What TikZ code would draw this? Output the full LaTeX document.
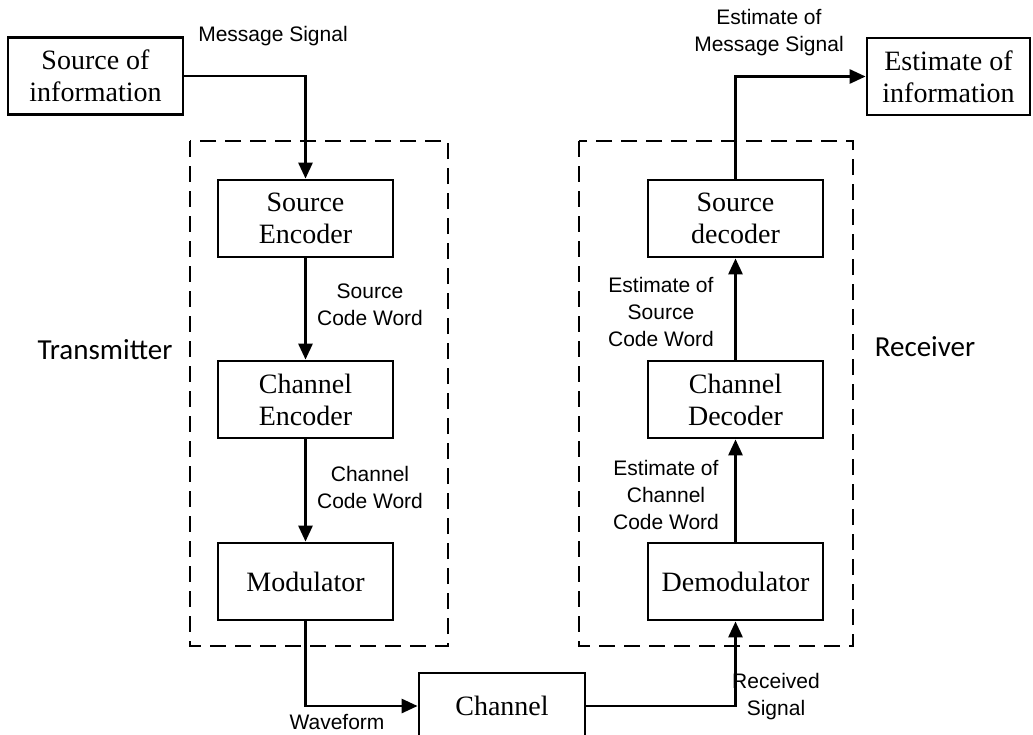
\documentclass[tikz,border=0pt]{standalone}
\usepackage{fontspec}
\usepackage{tikz}
\usetikzlibrary{arrows.meta}
\usetikzlibrary{positioning}
\newfontfamily\boxfont{Liberation Serif}
\newfontfamily\lblfont{Liberation Sans}
\newfontfamily\sidefont{Carlito}
\tikzset{block/.style = {draw, line width = 1.4pt, rectangle, align = center,
                         minimum width = 87.5pt, minimum height = 38.5pt, inner sep = 0,
                         font = \boxfont\fontsize{14}{16}\selectfont}}
\tikzset{lbl/.style = {align = center, inner sep = 0, font = \lblfont\fontsize{10.5}{13.5}\selectfont}}
\tikzset{side/.style = {inner sep = 0, font = \sidefont\fontsize{14.5}{17}\selectfont}}
\tikzset{frame/.style = {line width = 1.4pt, dash pattern = on 8pt off 4.5pt}}
\tikzset{wire/.style = {line width = 1.4pt, -{Triangle[length = 8pt, width = 7pt]}}}

\begin{document}
\begin{tikzpicture}[x = 0.5pt, y = -0.5pt]
      \useasboundingbox (0, 0) rectangle (1033, 734);

      % transmitter side
      \node [block] (src) at (95.5, 76) {Source of\\information};
      \node [block] (srcenc) at (305.5, 218.5) {Source\\Encoder};
      \node [block] (chenc) at (305.5, 399.5) {Channel\\Encoder};
      \node [block] (mod) at (305.5, 581.5) {Modulator};
      \draw [frame] (190, 141) rectangle (448, 646);

      % channel
      \node [block, minimum width = 83pt, minimum height = 33pt] (chan) at (502, 706) {Channel};

      % receiver side
      \node [block] (srcdec) at (735.5, 218.5) {Source\\decoder};
      \node [block] (chdec) at (735.5, 399.5) {Channel\\Decoder};
      \node [block] (demod) at (735.5, 581.5) {Demodulator};
      \node [block, minimum width = 81.5pt] (est) at (948.5, 76.5) {Estimate of\\information};
      \draw [frame] (579, 141) rectangle (853, 646);

      \draw [wire] (src.east) -| (srcenc.north);
      \draw [wire] (srcenc) -- (chenc);
      \draw [wire] (chenc) -- (mod);
      \draw [wire] (mod.south) |- (chan.west);
      \draw [wire] (chan.east) -| (demod.south);
      \draw [wire] (demod) -- (chdec);
      \draw [wire] (chdec) -- (srcdec);
      \draw [wire] (srcdec.north) |- (est.west);

      \node [lbl] (msg) at (273, 36) {Message Signal};
      \node [lbl] (srccw) at (370, 305) {Source\\Code Word};
      \node [lbl] (chcw) at (370, 487) {Channel\\Code Word};
      \node [lbl] (wave) at (337, 722) {Waveform};
      \node [lbl] (recv) at (776, 697) {Received\\Signal};
      \node [lbl] (estch) at (666, 495) {Estimate of\\Channel\\Code Word};
      \node [lbl] (estsrc) at (661, 312) {Estimate of\\Source\\Code Word};
      \node [lbl] (estmsg) at (769, 33) {Estimate of\\Message Signal};

      \node [side] (tx) at (105, 350) {Transmitter};
      \node [side] (rx) at (925, 347) {Receiver};

    \end{tikzpicture}
\end{document}
